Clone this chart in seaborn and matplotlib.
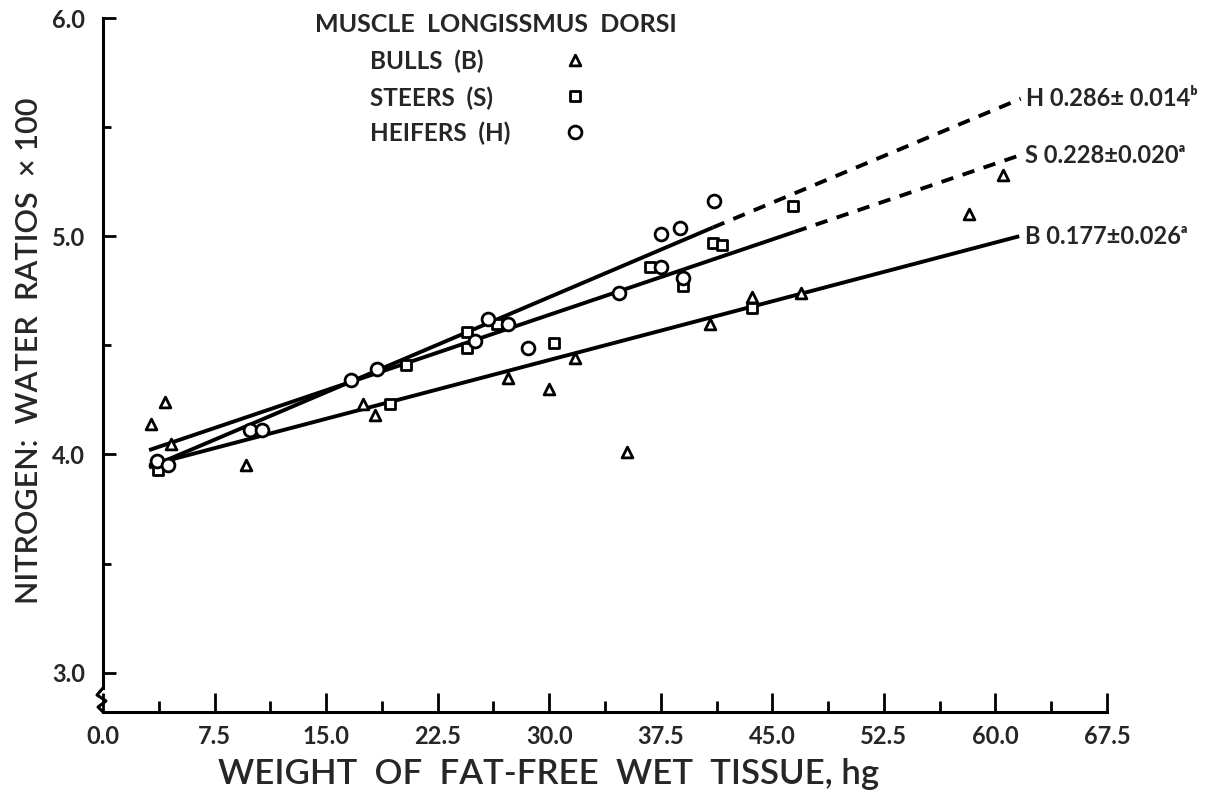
import matplotlib
matplotlib.use("Agg")
import matplotlib.pyplot as plt
import seaborn as sns
import pandas as pd

# ---------------- data ----------------
bulls_x = [3.2, 4.2, 4.6, 9.6, 17.5, 18.3, 27.2, 30.0, 31.7, 35.2, 40.8, 43.6, 46.9, 58.2, 60.5]
bulls_y = [4.14, 4.24, 4.05, 3.95, 4.23, 4.18, 4.35, 4.30, 4.44, 4.01, 4.60, 4.72, 4.74, 5.10, 5.28]

steers_x = [3.7, 19.3, 20.4, 24.5, 24.5, 26.5, 30.3, 36.8, 39.0, 41.0, 41.6, 43.6, 46.4]
steers_y = [3.93, 4.23, 4.41, 4.56, 4.49, 4.60, 4.51, 4.86, 4.77, 4.97, 4.96, 4.67, 5.14]

heifers_x = [3.6, 4.4, 9.9, 10.7, 16.7, 18.4, 25.0, 25.9, 27.2, 28.6, 34.7, 37.5, 37.5, 38.8, 39.0, 41.1]
heifers_y = [3.97, 3.95, 4.11, 4.11, 4.34, 4.39, 4.52, 4.62, 4.60, 4.49, 4.74, 4.86, 5.01, 5.04, 4.81, 5.16]

# regression lines: start, end of solid part, end of dashed extension
h_line_x = [3.1, 41.0, 61.7]
h_line_y = [3.94, 5.04, 5.63]
s_line_x = [3.1, 46.5, 61.6]
s_line_y = [4.02, 5.02, 5.37]
b_line_x = [3.1, 61.6]
b_line_y = [3.95, 5.00]

line_labels = ["H 0.286\u00b1 0.014\u1d47", "S 0.228\u00b10.020\u1d43", "B 0.177\u00b10.026\u1d43"]
group_labels = ["BULLS  (B)", "STEERS  (S)", "HEIFERS  (H)"]
legend_title = "MUSCLE  LONGISSMUS  DORSI"

x_ticks = [0.0, 7.5, 15.0, 22.5, 30.0, 37.5, 45.0, 52.5, 60.0, 67.5]
x_tick_labels = ["0.0", "7.5", "15.0", "22.5", "30.0", "37.5", "45.0", "52.5", "60.0", "67.5"]
y_ticks = [3.0, 4.0, 5.0, 6.0]
y_tick_labels = ["3.0", "4.0", "5.0", "6.0"]

x_label = "WEIGHT  OF  FAT-FREE  WET  TISSUE, hg"
y_label = "NITROGEN:  WATER  RATIOS  \u00d7 100"

# ---------------- style ----------------
sns.set_theme(style="white")
plt.rcParams["font.family"] = ["Lato", "DejaVu Sans"]

fig = plt.figure(figsize=(12.12, 7.93), dpi=100)
ax = fig.add_axes([103 / 1212, 1 - 712 / 793, 1004 / 1212, 694 / 793])

pts_kw = dict(color="white", edgecolor="black", linewidth=2.0, zorder=4)
df_b = pd.DataFrame({"x": bulls_x, "y": bulls_y})
df_s = pd.DataFrame({"x": steers_x, "y": steers_y})
df_h = pd.DataFrame({"x": heifers_x, "y": heifers_y})
sns.scatterplot(data=df_b, x="x", y="y", marker="^", s=60, ax=ax, label=group_labels[0], **pts_kw)
sns.scatterplot(data=df_s, x="x", y="y", marker="s", s=55, ax=ax, label=group_labels[1], **pts_kw)
sns.scatterplot(data=df_h, x="x", y="y", marker="o", s=85, ax=ax, label=group_labels[2], **pts_kw)

lw = 2.8
dash = (0, (3.2, 2.5))
ax.plot(h_line_x[:2], h_line_y[:2], color="black", lw=lw, zorder=3, solid_capstyle="butt")
ax.plot(h_line_x[1:], h_line_y[1:], color="black", lw=lw, linestyle=dash, zorder=3)
ax.plot(s_line_x[:2], s_line_y[:2], color="black", lw=lw, zorder=3, solid_capstyle="butt")
ax.plot(s_line_x[1:], s_line_y[1:], color="black", lw=lw, linestyle=dash, zorder=3)
ax.plot(b_line_x, b_line_y, color="black", lw=lw, zorder=3, solid_capstyle="butt")

for lx, ly, txt in [(h_line_x[-1], h_line_y[-1], line_labels[0]),
                    (s_line_x[-1], s_line_y[-1], line_labels[1]),
                    (b_line_x[-1], b_line_y[-1], line_labels[2])]:
    ax.annotate(txt, (lx, ly), xytext=(4, 0), textcoords="offset points",
                ha="left", va="center", fontsize=17, fontweight="bold",
                annotation_clip=False)

# legend: title, left-aligned labels, and marker keys in a column to the right
ax.text(0.211, 0.99, legend_title, transform=ax.transAxes, ha="left", va="center",
        fontsize=18, fontweight="bold")
row_y = [0.937, 0.885, 0.834]
for ry, lab in zip(row_y, group_labels):
    ax.text(0.266, ry, lab, transform=ax.transAxes, ha="left", va="center",
            fontsize=17.5, fontweight="bold")
handles, _ = ax.get_legend_handles_labels()
leg = ax.legend(handles, ["", "", ""], loc="upper left", bbox_to_anchor=(0.458, 0.955),
                frameon=False, handlelength=1.0, handletextpad=0.0, borderpad=0,
                labelspacing=0.62, fontsize=17.5, borderaxespad=0)

# axes
ax.set_xlim(0, 67.5)
ax.set_ylim(2.82, 6.0)
ax.set_xticks(x_ticks)
ax.set_xticklabels(x_tick_labels)
ax.set_xticks([v + 3.75 for v in x_ticks[:-1]], minor=True)
ax.set_yticks(y_ticks)
ax.set_yticklabels(y_tick_labels)
ax.set_yticks([3.5, 4.5, 5.5], minor=True)
ax.tick_params(axis="both", which="both", direction="in", width=2, color="black",
               bottom=True, left=True, top=False, right=False)
ax.tick_params(axis="both", which="major", labelsize=17)
ax.tick_params(axis="x", which="major", length=14, pad=9)
ax.tick_params(axis="x", which="minor", length=8)
ax.tick_params(axis="y", which="major", length=9, pad=13)
ax.tick_params(axis="y", which="minor", length=6)
for lab in ax.get_xticklabels() + ax.get_yticklabels():
    lab.set_fontweight("bold")

for side in ["top", "right"]:
    ax.spines[side].set_visible(False)
for side in ["left", "bottom"]:
    ax.spines[side].set_color("black")
    ax.spines[side].set_linewidth(2.2)
ax.spines["left"].set_bounds(2.93, 6.0)

# axis break squiggle
zx = [0, -6, 3, -5, 0]
zy = [688, 695, 701, 707, 712]
ax.plot([v / 1004 for v in zx], [(712 - v) / 694 for v in zy], transform=ax.transAxes,
        color="black", lw=2.2, clip_on=False)

ax.set_xlabel(x_label, fontsize=25, fontweight="semibold")
ax.set_ylabel(y_label, fontsize=22, fontweight="semibold", va="center")
ax.xaxis.set_label_coords(0.444, -0.066)
ax.yaxis.set_label_coords(-0.074, 0.52)

fig.savefig("out.png", dpi=100)
